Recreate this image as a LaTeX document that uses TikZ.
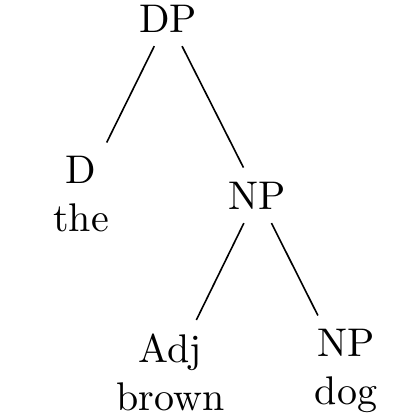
\documentclass[tikz,border=0pt]{standalone}
\begin{document}
\begin{tikzpicture}[x=0.25pt,y=-0.25pt,
  lbl/.style={align=center,inner sep=3.33pt},
  edge/.style={draw=black,line width=0.4pt}]
\useasboundingbox (0,0) rectangle (420,420);
\node[lbl,anchor=base] (dp) at (168,32) {DP};
\node[lbl,anchor=north] (d) at (81,142.5) {D\\the};
\node[lbl,anchor=base] (np) at (257.5,209) {NP};
\node[lbl,anchor=north] (adj) at (170.5,320) {Adj\\brown};
\node[lbl,anchor=north] (np2) at (346,315.5) {NP\\dog};
\draw[edge] (dp) -- (d);
\draw[edge] (dp) -- (np);
\draw[edge] (np) -- (adj);
\draw[edge] (np) -- (np2);
\end{tikzpicture}
\end{document}
